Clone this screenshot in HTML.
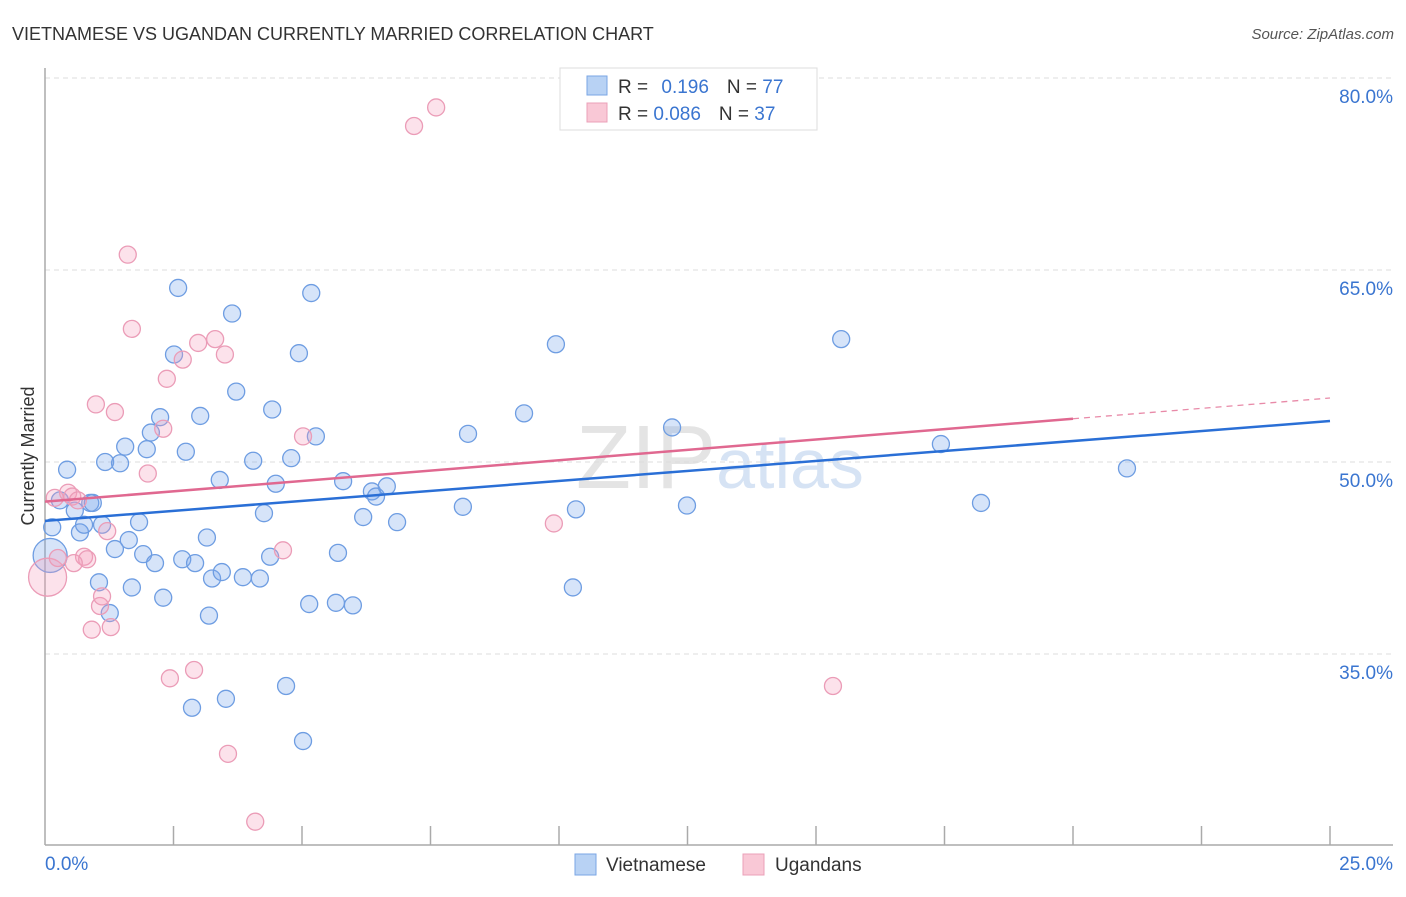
<!DOCTYPE html>
<html><head><meta charset="utf-8"><style>
body{margin:0;background:#fff;font-family:"Liberation Sans",sans-serif;}
svg text{font-family:"Liberation Sans",sans-serif;}
</style></head><body>
<svg id="c" width="1406" height="892" viewBox="0 0 1406 892">
<text x="12" y="40" font-size="18" fill="#333">VIETNAMESE VS UGANDAN CURRENTLY MARRIED CORRELATION CHART</text>
<text x="1394" y="39" font-size="15" fill="#555" text-anchor="end" font-style="italic">Source: ZipAtlas.com</text>
<text x="720" y="488" font-size="90" fill="#e4e4e4" text-anchor="middle" font-family="Liberation Serif">ZIP<tspan fill="#d6e3f4" font-family="Liberation Sans" font-size="70">atlas</tspan></text>
<g id="grid"></g><g id="axes"></g><g id="pts"></g><g id="lines"></g>
<text transform="translate(34,456) rotate(-90)" font-size="18" fill="#333" text-anchor="middle">Currently Married</text>
<g>
<rect x="560" y="68" width="257" height="62" fill="#fff" stroke="#ddd"/>
<rect x="587" y="76" width="20" height="19" fill="#b8d2f4" stroke="#7aa6e4"/>
<rect x="587" y="103" width="20" height="19" fill="#f9c8d6" stroke="#eba0b8"/>
<text x="618" y="93" font-size="19" fill="#333">R = <tspan fill="#3a75d0" dx="8">0.196</tspan><tspan dx="18" fill="#333">N = </tspan><tspan fill="#3a75d0">77</tspan></text>
<text x="618" y="120" font-size="19" fill="#333">R = <tspan fill="#3a75d0">0.086</tspan><tspan dx="18" fill="#333">N = </tspan><tspan fill="#3a75d0">37</tspan></text>
</g>
<g>
<rect x="575" y="854" width="21" height="21" fill="#b8d2f4" stroke="#7aa6e4"/>
<text x="606" y="871" font-size="19" fill="#333">Vietnamese</text>
<rect x="743" y="854" width="21" height="21" fill="#f9c8d6" stroke="#eba0b8"/>
<text x="775" y="871" font-size="19" fill="#333">Ugandans</text>
</g>
</svg>
<script>
const blueX=[0.43,0.14,0.29,0.58,0.68,0.76,0.88,0.93,1.11,1.05,1.26,1.17,1.36,1.46,1.56,1.63,1.69,1.83,1.91,1.98,2.06,2.14,2.24,2.30,2.51,2.59,2.67,2.74,2.92,2.86,3.02,3.15,3.19,3.25,3.40,3.44,3.64,3.72,3.52,3.85,4.05,4.18,4.26,4.38,4.42,4.49,4.69,4.79,4.94,5.02,5.14,5.18,5.27,5.66,5.70,5.80,5.99,6.19,6.36,6.44,6.65,6.85,8.13,8.23,9.32,9.94,10.27,10.33,12.2,12.49,15.49,17.43,18.21,21.05,0.1];
const blueY=[49.4,44.9,47.0,46.2,44.5,45.1,46.8,46.8,45.1,40.6,38.2,50.0,43.2,49.9,51.2,43.9,40.2,45.3,42.8,51.0,52.3,42.1,53.5,39.4,58.4,63.6,42.4,50.8,42.1,30.8,53.6,44.1,38.0,40.9,48.6,41.4,61.6,55.5,31.5,41.0,50.1,40.9,46.0,42.6,54.1,48.3,32.5,50.3,58.5,28.2,38.9,63.2,52.0,39.0,42.9,48.5,38.8,45.7,47.7,47.3,48.1,45.3,46.5,52.2,53.8,59.2,40.2,46.3,52.7,46.6,59.6,51.4,46.8,49.5,42.7];
const blueW=[1,1,1,1,1,1,1,1,1,1,1,1,1,1,1,1,1,1,1,1,1,1,1,1,1,1,1,1,1,1,1,1,1,1,1,1,1,1,1,1,1,1,1,1,1,1,1,1,1,1,1,1,1,1,1,1,1,1,1,1,1,1,1,1,1,1,1,1,1,1,1,1,1,1,4];
const pinkX=[0.05,0.19,0.25,0.45,0.53,0.64,0.76,0.82,0.56,0.91,0.99,1.07,1.11,1.21,1.28,1.36,1.61,1.69,2.0,2.30,2.37,2.43,2.68,2.90,2.98,3.31,3.50,3.56,4.09,4.63,5.02,7.18,7.61,9.90,15.33];
const pinkY=[41.0,47.2,42.5,47.6,47.3,47.0,42.6,42.4,42.1,36.9,54.5,38.75,39.5,44.6,37.1,53.9,66.2,60.4,49.1,52.6,56.5,33.1,58.0,33.75,59.3,59.6,58.4,27.2,21.9,43.1,52.0,76.25,77.7,45.2,32.5];
const pinkW=[5,1,1,1,1,1,1,1,1,1,1,1,1,1,1,1,1,1,1,1,1,1,1,1,1,1,1,1,1,1,1,1,1,1,1];
const blueTrend=[45.4,53.2];
const pinkTrend=[46.9,55.0];
const yTicks=[80,65,50,35];
const xTickLabels=["0.0%","25.0%"];
const NS="http://www.w3.org/2000/svg";
const X0=45,X1=1330,Y80=78,PXY=12.8;
const sx=v=>X0+(v/25)*(X1-X0);
const sy=v=>Y80+(80-v)*PXY;
function mk(tag,attrs,parent){const e=document.createElementNS(NS,tag);for(const k in attrs)e.setAttribute(k,attrs[k]);document.getElementById(parent).appendChild(e);return e;}
yTicks.forEach(t=>{
 const l=mk('line',{x1:45,x2:1393,y1:sy(t),y2:sy(t),stroke:'#ddd','stroke-dasharray':'5,4'},'grid');
 
 
 const tx=mk('text',{x:1393,y:sy(t)+25,'font-size':19,fill:'#3a75d0','text-anchor':'end'},'grid');
 tx.textContent=t.toFixed(1)+'%';
 
 
});
let a=mk('line',{x1:45,x2:45,y1:68,y2:845,stroke:'#aaa','stroke-width':1.5},'axes');


a=mk('line',{x1:45,x2:1393,y1:845,y2:845,stroke:'#aaa','stroke-width':1.5},'axes');


for(let i=1;i<=10;i++){const t=mk('line',{x1:sx(i*2.5),x2:sx(i*2.5),y1:826,y2:845,stroke:'#aaa','stroke-width':1.5},'axes');
 
 }
let xl=mk('text',{x:45,y:870,'font-size':19,fill:'#3a75d0'},'axes');xl.textContent=xTickLabels[0];


xl=mk('text',{x:1393,y:870,'font-size':19,fill:'#3a75d0','text-anchor':'end'},'axes');xl.textContent=xTickLabels[1];


function pts(xs,ys,ws,fill,stroke,name){xs.forEach((x,i)=>{
 const c=mk('circle',{cx:sx(x),cy:sy(ys[i]),r:8.5*Math.sqrt(ws[i]),fill:fill,stroke:stroke,'stroke-width':1.3},'pts');
 
 });}
pts(blueX,blueY,blueW,'rgba(120,165,235,0.3)','#6e9de2','vietnamese-point');
pts(pinkX,pinkY,pinkW,'rgba(245,160,190,0.3)','#eb9cb7','ugandan-point');
let ln=mk('line',{x1:sx(0),y1:sy(blueTrend[0]),x2:sx(25),y2:sy(blueTrend[1]),stroke:'#2a6fd6','stroke-width':2.5},'lines');


const pAt=v=>pinkTrend[0]+(pinkTrend[1]-pinkTrend[0])*v/25;
ln=mk('line',{x1:sx(0),y1:sy(pAt(0)),x2:sx(20),y2:sy(pAt(20)),stroke:'#e06890','stroke-width':2.5},'lines');


ln=mk('line',{x1:sx(20),y1:sy(pAt(20)),x2:sx(25),y2:sy(pAt(25)),stroke:'#e88aa8','stroke-width':1.3,'stroke-dasharray':'6,5'},'lines');


</script>
</body></html>
